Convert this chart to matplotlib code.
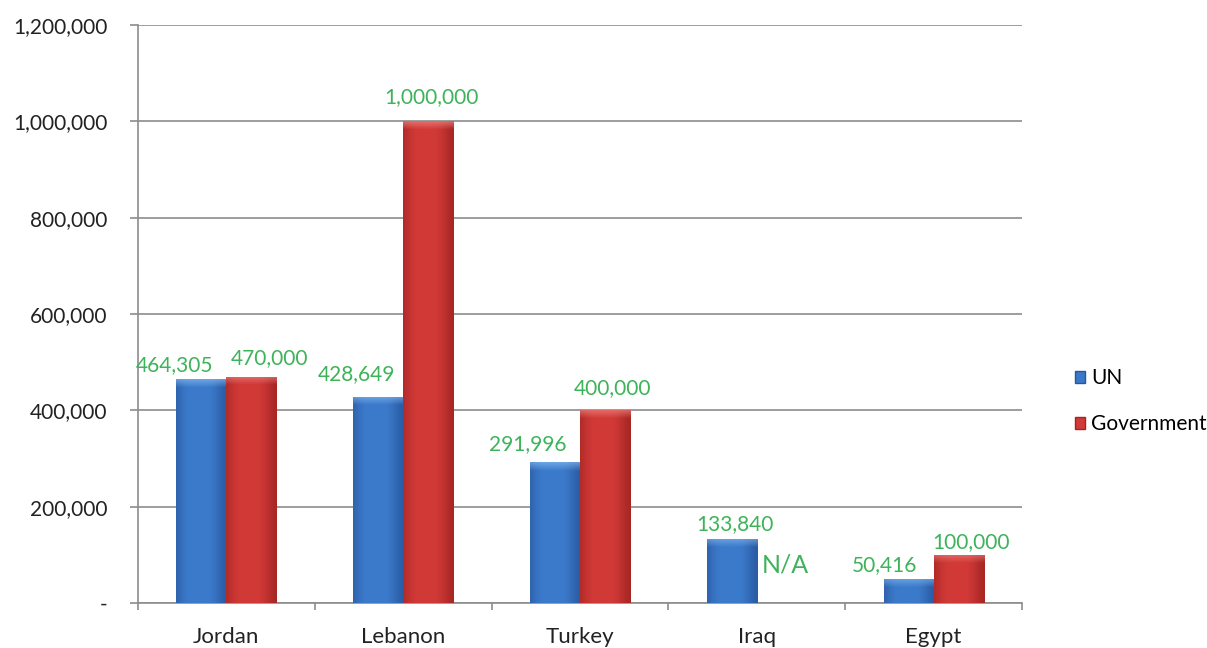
import numpy as np
import matplotlib.pyplot as plt
from matplotlib.ticker import FuncFormatter, FixedLocator
from matplotlib.patches import Patch

countries = ["Jordan", "Lebanon", "Turkey", "Iraq", "Egypt"]
un_values = [464305, 428649, 291996, 133840, 50416]
gov_values = [470000, 1000000, 400000, None, 100000]
series_names = ["UN", "Government"]
y_ticks = [0, 200000, 400000, 600000, 800000, 1000000, 1200000]

# label offsets in pixels from the top centre of each bar (dx, dy)
un_offsets = [(-27, 14), (-22, 22), (-27, 18), (3, 14), (-24, 14)]
gov_offsets = [(18, 19), (3, 24), (8, 22), (3, 38), (12, 13)]

plt.rcParams['font.family'] = ['Lato', 'DejaVu Sans']

fig = plt.figure(figsize=(12.07, 6.48), dpi=100)
ax = fig.add_axes([138 / 1207, 45 / 648, 884 / 1207, 578 / 648])

grey = "#8c8c8c"
green = "#3db35a"
bar_w = 0.283
x = np.arange(len(countries))


def shade(base, edge, light, nx=60, ny=200, bevel=0.0):
    base, edge, light = [np.array(plt.matplotlib.colors.to_rgb(c)) for c in (base, edge, light)]
    t = np.linspace(0, 1, nx)
    # flat middle, darker narrow edges
    w = np.exp(-((t - 0.45) / 0.42) ** 4)
    row = edge[None, :] * (1 - w[:, None]) + base[None, :] * w[:, None]
    img = np.repeat(row[None, :, :], ny, axis=0)
    nb = int(round(bevel * ny))
    if nb > 0:
        fade = np.linspace(1, 0, nb)[:, None, None]
        img[:nb] = img[:nb] * (1 - 0.6 * fade) + light[None, None, :] * 0.6 * fade
    return img


px_per_unit = 578 / 1200000


def draw_bars(xs, vals, base, edge, light):
    for xi, v in zip(xs, vals):
        if v is None:
            continue
        b = ax.bar(xi, v, width=bar_w, color="none", edgecolor="none", zorder=3)[0]
        hpx = v * px_per_unit
        img = shade(base, edge, light, bevel=min(1.0, 9 / hpx))
        im = ax.imshow(img, extent=[xi - bar_w / 2, xi + bar_w / 2, 0, v],
                       aspect="auto", zorder=3, interpolation="bilinear")
        im.set_clip_path(b)


draw_bars(x - bar_w / 2, un_values, "#3c7bcc", "#2a5ba3", "#8cc0f5")
draw_bars(x + bar_w / 2, gov_values, "#d13a37", "#a52624", "#f08a86")

for i in range(len(countries)):
    ax.annotate(f"{un_values[i]:,}", (x[i] - bar_w / 2, un_values[i]),
                xytext=un_offsets[i], textcoords="offset pixels",
                ha="center", va="center", color=green, fontsize=15, zorder=5)
    g = gov_values[i]
    if g is None:
        ax.annotate("N/A", (x[i] + bar_w / 2, 0), xytext=gov_offsets[i],
                    textcoords="offset pixels", ha="center", va="center",
                    color=green, fontsize=18, zorder=5)
    else:
        ax.annotate(f"{g:,}", (x[i] + bar_w / 2, g), xytext=gov_offsets[i],
                    textcoords="offset pixels", ha="center", va="center",
                    color=green, fontsize=15, zorder=5)

ax.set_xlim(-0.5, len(countries) - 0.5)
ax.set_ylim(0, 1200000)
ax.set_yticks(y_ticks)
ax.yaxis.set_major_formatter(FuncFormatter(lambda v, p: "-" if v == 0 else f"{int(v):,}"))
ax.grid(axis="y", color=grey, lw=1.2, zorder=1)
ax.set_axisbelow(True)

ax.set_xticks(x)
ax.set_xticklabels(countries)
ax.xaxis.set_minor_locator(FixedLocator(np.arange(-0.5, len(countries), 1.0)))
ax.tick_params(axis="x", which="major", length=0, pad=17, labelsize=16, labelcolor="#222222")
ax.tick_params(axis="x", which="minor", length=5, width=1.2, color=grey)
ax.tick_params(axis="y", length=6, width=1.2, color=grey, pad=16, labelsize=15,
               labelcolor="#222222")

for s in ["top", "right"]:
    ax.spines[s].set_visible(False)
for s in ["left", "bottom"]:
    ax.spines[s].set_color(grey)
    ax.spines[s].set_linewidth(1.2)

handles = [Patch(facecolor="#3a78c8", edgecolor="#2757a0"),
           Patch(facecolor="#d03a38", edgecolor="#a42422")]
fig.legend(handles, series_names, loc="center left", bbox_to_anchor=(1056 / 1207, 1 - 401 / 648),
           frameon=False, fontsize=15, handlelength=0.5, handleheight=0.5,
           handletextpad=0.3, labelspacing=1.25)

fig.savefig("out.png", dpi=100)
